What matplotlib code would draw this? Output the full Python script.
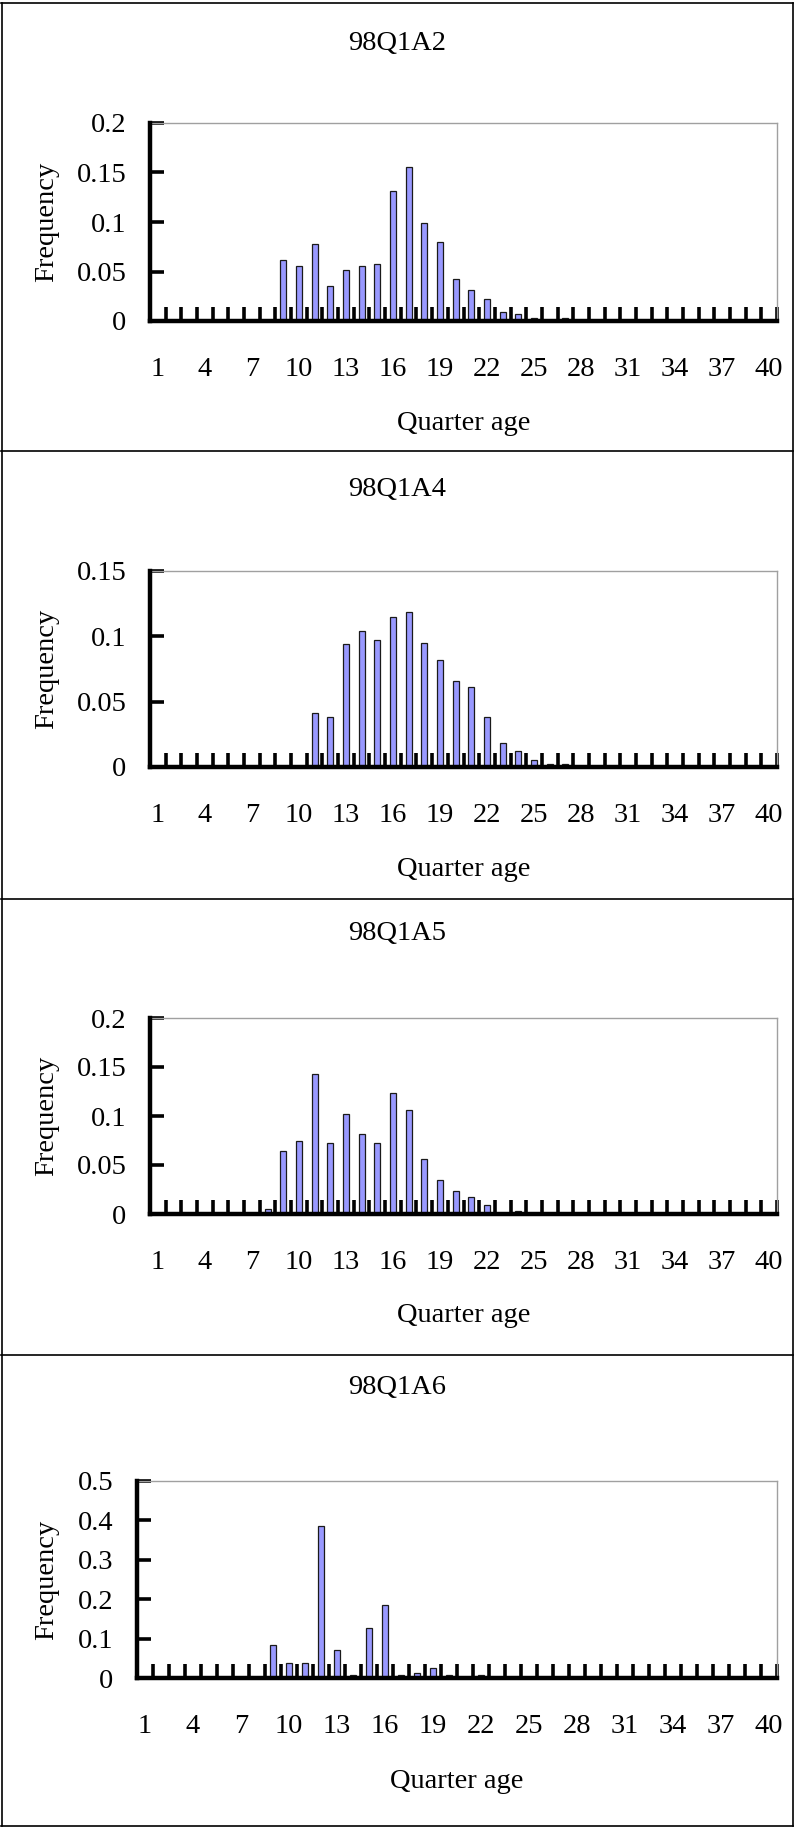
import matplotlib
matplotlib.use("Agg")
import matplotlib.pyplot as plt
from matplotlib.lines import Line2D

plt.rcParams['font.family'] = ['Liberation Serif', 'DejaVu Serif']

W, H = 794, 1827

quarters = list(range(1, 41))
tick_labels = [str(q) for q in range(1, 41, 3)]

titles = ["98Q1A2", "98Q1A4", "98Q1A5", "98Q1A6"]

freq_a2 = [0, 0, 0, 0, 0, 0, 0, 0.001, 0.062, 0.056,
           0.078, 0.035, 0.052, 0.056, 0.058, 0.131, 0.156, 0.099, 0.080, 0.042,
           0.031, 0.022, 0.0087, 0.0068, 0.0027, 0.001, 0.0027, 0, 0.0008, 0,
           0, 0, 0, 0, 0, 0, 0, 0, 0, 0]
freq_a4 = [0, 0, 0, 0, 0, 0, 0, 0, 0, 0.001,
           0.041, 0.038, 0.094, 0.104, 0.097, 0.1145, 0.119, 0.095, 0.082, 0.066,
           0.0615, 0.038, 0.0186, 0.0125, 0.0053, 0.0026, 0.0026, 0, 0, 0,
           0, 0, 0, 0, 0, 0, 0, 0, 0, 0]
freq_a5 = [0, 0, 0, 0, 0, 0, 0, 0.005, 0.064, 0.074,
           0.143, 0.072, 0.102, 0.082, 0.072, 0.123, 0.106, 0.056, 0.035, 0.023,
           0.017, 0.009, 0.0012, 0.003, 0.001, 0, 0, 0, 0, 0,
           0, 0, 0, 0, 0, 0, 0, 0, 0, 0]
freq_a6 = [0, 0, 0, 0, 0, 0, 0, 0, 0.083, 0.038,
           0.038, 0.386, 0.071, 0.008, 0.127, 0.185, 0.008, 0.012, 0.026, 0.007,
           0, 0.007, 0, 0, 0, 0, 0, 0, 0, 0,
           0, 0, 0, 0, 0, 0, 0, 0, 0, 0]

series = [freq_a2, freq_a4, freq_a5, freq_a6]
y_max = [0.2, 0.15, 0.2, 0.5]
y_step = [0.05, 0.05, 0.05, 0.1]
y_ticklabels = [["0", "0.05", "0.1", "0.15", "0.2"],
                ["0", "0.05", "0.1", "0.15"],
                ["0", "0.05", "0.1", "0.15", "0.2"],
                ["0", "0.1", "0.2", "0.3", "0.4", "0.5"]]

# layout in pixels (left, right, top, bottom of plot area)
axes_px = [(150, 777, 123, 321), (150, 777, 571, 767),
           (150, 777, 1018, 1214), (137, 777, 1481, 1678)]
title_y = [43, 490, 933, 1388]
xlabel_off = [102, 102, 102, 104]
panel_lines = [3, 451, 899, 1355, 1826]

fig = plt.figure(figsize=(W / 100, H / 100), dpi=100)
FS = 20.5

def fx(x):
    return x / W

def fy(y):
    return 1 - y / H

# panel borders
for y in panel_lines:
    fig.add_artist(Line2D([fx(1), fx(793)], [fy(y), fy(y)], color='black', lw=1.2))
for x in (1.5, 792.5):
    fig.add_artist(Line2D([fx(x), fx(x)], [fy(panel_lines[0]), fy(panel_lines[-1])],
                          color='black', lw=1.2))

for i in range(4):
    l, r, t, b = axes_px[i]
    ax = fig.add_axes([fx(l), fy(b), (r - l) / W, (b - t) / H])
    ax.bar(quarters, series[i], width=0.38, color='#9999ff', edgecolor='#1a1a1a',
           linewidth=0.9, zorder=1)
    ax.set_xlim(0.5, 40.5)
    ax.set_ylim(0, y_max[i])
    n = len(y_ticklabels[i])
    ax.set_yticks([k * y_step[i] for k in range(n)])
    ax.set_yticklabels(y_ticklabels[i], fontsize=FS)
    # major ticks on category boundaries, labels on category centers
    ax.set_xticks([q + 0.5 for q in quarters])
    ax.set_xticklabels([])
    ax.set_xticks(list(range(1, 41, 3)), minor=True)
    ax.set_xticklabels(tick_labels, minor=True, fontsize=FS)
    ax.tick_params(axis='x', which='major', direction='in', length=10, width=2.6,
                   color='black')
    ax.tick_params(axis='x', which='minor', length=0, pad=26)
    ax.tick_params(axis='y', which='major', direction='in', length=10, width=2.6,
                   color='black', pad=17)
    for s in ('left', 'bottom'):
        ax.spines[s].set_linewidth(3.2)
        ax.spines[s].set_color('black')
    for s in ('top', 'right'):
        ax.spines[s].set_linewidth(1.0)
        ax.spines[s].set_color('#a0a0a0')
    ax.spines['left'].set_zorder(3)
    ax.spines['bottom'].set_zorder(3)

    # title, x label and y label
    fig.text(0.5, fy(title_y[i]), titles[i], ha='center', va='center', fontsize=FS)
    fig.text(fx((l + r) / 2), fy(b + xlabel_off[i]), "Quarter age", ha='center',
             va='center', fontsize=FS)
    fig.text(fx(47), fy((t + b) / 2), "Frequency", ha='center', va='center',
             rotation=90, fontsize=FS)

fig.savefig("out.png", dpi=100)
